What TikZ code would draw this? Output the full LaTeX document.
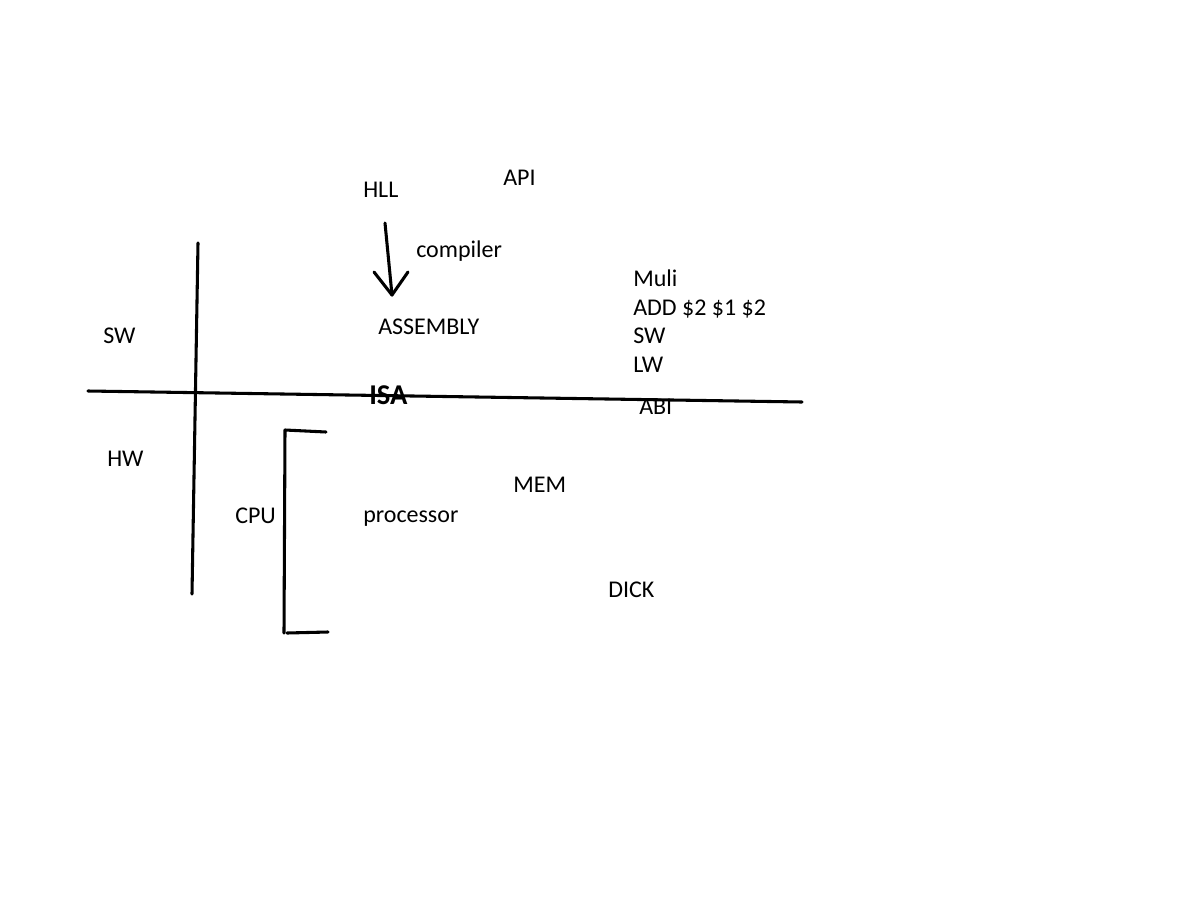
\documentclass[tikz,border=0pt]{standalone}
\usepackage{fontspec}
\setmainfont{Carlito}
\tikzset{
  lbl/.style={anchor=base west, inner sep=0pt, font=\fontsize{18}{21}\selectfont},
  stroke/.style={line width=2.3pt, line cap=round, line join=round}
}
\begin{document}
\begin{tikzpicture}[x=0.75pt,y=-0.75pt]
\useasboundingbox (0,0) rectangle (1200,900);
% texts
\node[lbl] (hll) at (363,197) {HLL};
\node[lbl] (api) at (503,185) {API};
\node[lbl] (compiler) at (416,257) {compiler};
\node[lbl] (assembly) at (378,334) {ASSEMBLY};
\node[lbl] (sw) at (103,343) {SW};
\node[lbl] (hw) at (107,466) {HW};
\node[lbl] (muli) at (633,286) {Muli};
\node[lbl] (add) at (633,315) {ADD \$2 \$1 \$2};
\node[lbl] (sw2) at (633,343) {SW};
\node[lbl] (lw) at (633,372) {LW};
\node[lbl] (abi) at (639,414) {ABI};
\node[lbl, font=\fontsize{21.5}{24}\selectfont\bfseries] (isa) at (369,404) {ISA};
\node[lbl] (mem) at (513,492) {MEM};
\node[lbl] (cpu) at (235,523) {CPU};
\node[lbl] (proc) at (363,522) {processor};
\node[lbl] (dick) at (608,597) {DICK};
% lines
\draw[stroke] (88,391) -- (802,402);
\draw[stroke] (198,243) -- (192,594);
% arrow HLL -> ASSEMBLY
\coordinate (arrs) at (385,223);
\coordinate (arre) at (392,295);
\draw[stroke] (arrs) -- (arre);
\draw[stroke] (374,272) -- (arre) -- (408,272);
% bracket
\draw[stroke] (326,432) -- (285,430) -- (284,633);
\draw[stroke] (287,633) -- (328,632);
\end{tikzpicture}
\end{document}
